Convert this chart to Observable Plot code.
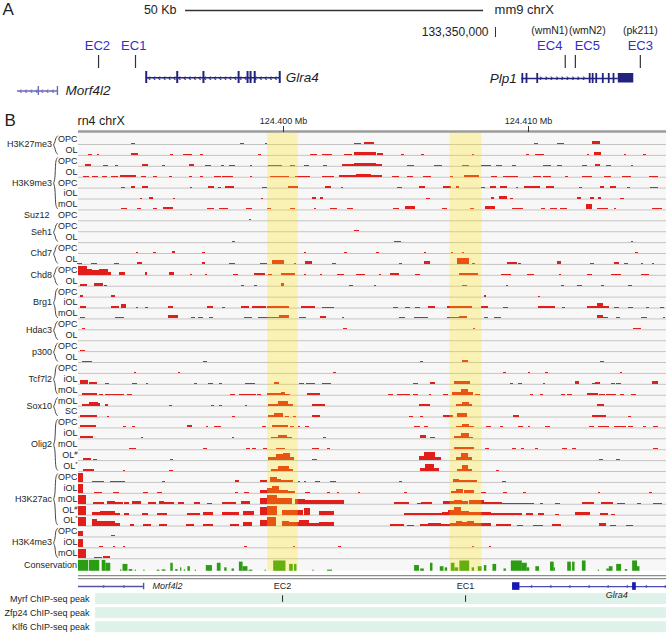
<!DOCTYPE html>
<html><head><meta charset="utf-8">
<script src="https://cdn.jsdelivr.net/npm/d3@7"></script>
<script src="https://cdn.jsdelivr.net/npm/@observablehq/plot@0.6"></script>
<style>
body{margin:0;background:#fff;}
#chart{width:666px;}
#chart svg{display:block;}
</style></head><body><div id="chart"></div>
<script>
// ================= PANEL A (mm9 chrX, kb relative to 133,350,000) =================
const scaleBarKb = [-52, -2];
const scaleBarLabel = "50 Kb";
const assemblyA = "mm9 chrX";
const coordTickA = [0];
const coordTickLabelA = ["133,350,000"];
const ecNamesA = ["EC2", "EC1", "EC4", "EC5", "EC3"];
const ecLabelPosA = [-66.8, -60.7, 9.1, 15.4, 24.3];
const ecSitePosA = [-66.6, -60.4, 11.7, 13.4, 24.3];
const ecAliasA = ["", "", "(wmN1)", "(wmN2)", "(pk211)"];
const genesA = ["Glra4", "Morf4l2", "Plp1"];
const geneStartA = [-58.6, -80.2, 4.4];
const geneEndA = [-36.2, -73.5, 20.6];
const geneStrandA = ["-", "-", "+"];
const glra4ExonsA = [-58.6, -53.4, -49.0, -43.1, -41.6, -41.1, -40.4, -36.2];
const morf4l2ExonsA = [-76.7, -73.5];
const plp1ExonsA = [4.5, 5.2, 7.0, 15.8, 16.3, 16.9, 18.0, 19.0, 19.8];
const plp1UtrA = [20.6, 23.2];

// ================= PANEL B (rn4 chrX, kb relative to 124,390,000) =================
const windowKb = [1.633, 25.633];
const xTicks = [10, 20];
const xTickLabels = ["124.400 Mb", "124.410 Mb"];
const factors = ["H3K27me3","H3K9me3","Suz12","Seh1","Chd7","Chd8","Brg1","Hdac3","p300","Tcf7l2","Sox10","Olig2","H3K27ac","H3K4me3"];
const cellTypes = [
  ["OPC","OL"], ["OPC","OL","OPC","iOL","mOL"], ["OPC"], ["OPC","OL"], ["OPC","OL"], ["OPC","OL"],
  ["OPC","iOL","mOL"], ["OPC","OL"], ["OPC","OL"], ["OPC","iOL","mOL"], ["mOL","SC"],
  ["OPC","iOL","mOL","OL#","OL*"], ["OPC","iOL","mOL","OL#","OL*"], ["OPC","iOL","mOL"]
];
// signal segments: [startKb, endKb, relative height]
const H3K27me3 = [
  [[3.8,3.95,.12],[8.25,8.4,.1],[9.25,9.35,.1],[12.9,13.2,.15],[13.3,13.7,.25],[20.25,20.4,.12],[21.2,21.45,.15],[22.6,22.95,.3]],
  [[2.05,2.2,.1],[2.4,2.5,.1],[3.8,4.1,.15],[5.4,5.5,.1],[5.9,6.3,.12],[6.6,6.75,.12],[9.0,9.1,.1],[11.1,11.4,.12],[11.6,12.0,.12],[12.5,12.8,.1],[12.9,13.8,.25],[13.85,14.1,.15],[14.8,14.95,.1],[15.65,15.75,.1],[17.7,17.8,.1],[19.9,20.05,.1],[20.3,20.65,.12],[22.4,22.5,.1],[22.7,23.0,.25],[23.9,24.0,.1],[24.7,24.8,.1]]
];
const H3K9me3 = [
  [[1.9,2.15,.15],[2.65,2.85,.12],[3.15,3.25,.1],[4.25,4.5,.15],[5.05,5.2,.12],[6.15,6.35,.15],[6.8,7.05,.12],[7.45,7.6,.1],[7.8,8.05,.12],[8.65,8.75,.1],[9.4,9.95,.12],[10.3,10.5,.12],[10.85,11.05,.1],[11.65,11.8,.1],[12.4,12.9,.15],[12.9,13.8,.25],[13.8,14.05,.15],[15.05,15.35,.12],[16.15,16.5,.1],[17.3,17.6,.12],[18.1,18.5,.12],[18.7,18.95,.12],[19.35,19.5,.1],[20.6,20.95,.12],[21.2,21.4,.12],[22.2,22.4,.12],[22.75,22.95,.15],[23.2,23.4,.1],[24.2,24.3,.1]],
  [[1.85,2.1,.12],[2.2,2.45,.12],[2.6,2.8,.12],[3.0,3.25,.1],[3.35,4.0,.15],[4.2,4.4,.12],[4.7,4.85,.1],[5.35,5.45,.1],[6.15,6.3,.12],[6.6,6.75,.12],[7.2,7.45,.12],[7.5,7.95,.12],[8.65,8.75,.1],[9.45,10.25,.12],[10.5,11.1,.12],[11.6,12.1,.12],[12.3,13.0,.15],[13.0,13.6,.3],[13.6,14.05,.18],[14.45,14.75,.1],[15.05,15.3,.1],[15.7,16.05,.12],[16.8,16.95,.1],[17.4,18.0,.2],[18.5,18.75,.1],[19.0,19.6,.12],[20.2,20.55,.1],[20.6,20.95,.12],[21.5,21.65,.1],[22.2,22.6,.12],[23.1,23.4,.12],[23.85,24.2,.12],[24.95,25.3,.12]],
  [[3.4,3.55,.1],[3.8,3.95,.12],[4.25,4.5,.15],[6.2,6.3,.1],[6.95,7.2,.15],[7.35,7.45,.1],[7.65,8.0,.12],[9.15,9.35,.1],[10.2,10.6,.18],[11.7,11.95,.2],[12.35,12.45,.1],[14.65,14.85,.1],[15.55,15.8,.15],[16.55,16.85,.12],[17.05,17.2,.2],[18.1,18.25,.1],[18.45,18.7,.12],[18.85,19.15,.12],[19.5,19.6,.1],[19.85,20.5,.15],[20.75,21.05,.12],[22.1,22.2,.1],[22.95,23.1,.12],[23.35,23.6,.12],[24.05,24.15,.1],[25.0,25.3,.1]],
  [[4.15,4.25,.1],[4.55,4.7,.12],[5.5,5.6,.1],[9.1,9.2,.1],[11.2,11.35,.12],[11.5,11.65,.12],[15.85,16.0,.1],[18.5,18.6,.12],[18.8,19.15,.3],[19.25,19.4,.1],[22.0,22.15,.12],[22.55,22.7,.12],[22.85,23.0,.12],[23.75,23.9,.1]],
  [[3.4,3.65,.12],[4.05,4.2,.12],[4.7,4.85,.1],[5.1,5.5,.2],[6.9,7.2,.15],[7.4,7.75,.1],[8.5,8.75,.1],[9.35,9.5,.1],[10.3,10.5,.12],[11.25,11.35,.1],[11.9,12.2,.12],[12.6,12.85,.1],[14.5,14.75,.12],[15.0,15.4,.3],[16.5,16.7,.1],[17.65,17.8,.12],[18.25,18.65,.3],[19.35,19.8,.1],[20.55,20.7,.12],[20.9,21.2,.12],[21.3,21.6,.1],[22.35,22.6,.55],[22.8,23.25,.15],[23.5,23.6,.1],[25.05,25.45,.15]]
];
const Suz12 = [
  [[8.6,8.7,.1],[17.3,17.4,.08],[19.2,19.3,.08],[22.0,22.1,.08]]
];
const Seh1 = [
  [[12.9,13.1,.12]],
  [[7.9,8.05,.1],[14.55,14.8,.12],[24.2,24.3,.1]]
];
const Chd7 = [
  [[4.0,4.1,.1],[4.7,4.8,.1],[5.45,5.6,.2],[6.7,6.8,.12],[10.85,10.95,.1],[12.5,12.6,.12],[13.8,13.9,.1],[15.75,15.85,.12],[16.85,16.95,.1],[17.3,17.4,.1],[24.35,24.5,.15]],
  [[1.6,1.8,.12],[2.15,2.4,.12],[3.1,3.3,.12],[4.05,4.25,.2],[6.7,6.8,.15],[7.8,8.05,.1],[9.05,9.35,.12],[9.55,10.05,.35],[10.45,10.55,.1],[10.9,11.2,.3],[12.0,12.15,.1],[14.75,14.85,.1],[15.75,16.0,.3],[17.1,17.6,.6],[17.7,17.85,.12],[19.15,19.55,.15],[19.6,19.7,.1],[21.2,21.35,.3],[22.55,22.7,.1],[23.5,23.7,.15],[23.9,24.1,.1],[24.6,24.7,.1],[25.05,25.15,.1]]
];
const Chd8 = [
  [[1.633,2.0,.9],[2.0,2.2,.55],[2.2,2.5,.45],[2.5,2.85,.6],[2.85,3.0,.3],[3.3,3.55,.3],[4.35,4.45,.25],[5.35,5.55,.25],[6.2,6.3,.1],[6.8,6.9,.1],[7.95,8.15,.12],[8.8,9.25,.15],[9.4,9.55,.12],[9.9,10.5,.15],[10.85,10.95,.1],[11.5,11.6,.1],[12.2,12.5,.12],[13.0,13.35,.12],[13.9,14.0,.1],[14.35,14.75,.15],[15.4,15.6,.1],[17.2,17.95,.15],[18.9,19.3,.12],[19.95,20.25,.12],[21.25,21.35,.1],[22.4,22.6,.12],[23.4,23.8,.12],[24.6,24.95,.12]],
  [[1.7,2.0,.2],[2.3,2.65,.25],[2.7,2.8,.12],[8.3,8.4,.1],[8.8,8.95,.12],[9.9,10.05,.3],[12.7,12.85,.12],[13.7,13.8,.1],[17.3,17.5,.12],[19.1,19.2,.1],[21.35,21.45,.1],[22.0,22.2,.12],[23.0,23.1,.1],[24.1,24.25,.12]]
];
const Brg1 = [
  [[1.7,1.85,.12],[3.0,3.15,.12],[18.2,18.3,.12],[20.4,20.5,.1]],
  [[1.7,1.95,.12],[3.0,3.3,.12],[3.4,3.6,.35],[4.0,4.1,.1],[4.35,4.5,.1],[5.3,5.5,.12],[6.9,7.15,.2],[7.5,7.65,.1],[8.3,8.6,.12],[8.75,9.3,.12],[9.35,10.25,.2],[10.75,11.3,.12],[11.6,12.1,.1],[14.5,14.7,.1],[15.0,15.2,.1],[15.4,15.6,.1],[15.9,16.2,.12],[16.7,17.7,.12],[18.1,18.35,.2],[19.0,19.2,.1],[20.4,21.1,.12],[21.4,21.5,.1],[22.4,22.8,.15],[22.8,23.05,.5],[23.05,23.3,.15],[23.5,23.7,.1],[24.1,24.3,.1],[24.8,24.95,.1],[25.4,25.55,.1]],
  [[1.7,1.9,.1],[3.15,3.5,.12],[5.3,5.7,.3],[6.25,6.4,.1],[6.55,6.75,.12],[7.0,7.15,.1],[8.4,8.75,.12],[9.0,9.85,.15],[9.85,10.25,.3],[10.65,10.95,.12],[11.5,11.75,.2],[12.4,12.5,.1],[14.75,15.0,.1],[15.35,15.9,.15],[16.7,17.2,.12],[17.2,17.5,.2],[18.2,18.35,.1],[18.6,18.9,.1],[22.8,23.05,.35],[23.05,23.25,.12],[23.6,23.75,.1],[24.6,24.85,.12],[25.5,25.6,.1]]
];
const Hdac3 = [
  [[1.8,1.9,.1],[12.45,12.6,.1],[17.75,17.85,.1],[24.3,24.6,.1]],
  []
];
const p300 = [
  [[1.7,1.9,.12]],
  [[1.8,2.2,.15],[6.75,6.9,.1],[15.6,15.7,.1],[17.3,17.55,.25],[22.95,23.1,.1]]
];
const Tcf7l2 = [
  [[3.9,4.0,.1],[5.7,5.8,.1],[12.05,12.15,.1],[19.0,19.1,.1],[20.0,20.1,.1],[20.7,20.8,.1],[23.75,23.85,.1]],
  [[1.7,2.05,.35],[2.1,2.4,.2],[2.75,2.9,.12],[3.85,4.05,.12],[4.4,4.5,.1],[6.35,6.5,.12],[6.95,7.15,.12],[7.4,7.5,.1],[8.45,8.85,.12],[9.65,9.85,.15],[10.65,10.85,.1],[10.95,11.3,.1],[11.6,11.95,.12],[15.3,15.5,.1],[16.0,16.2,.15],[17.0,17.65,.25],[19.25,19.4,.1],[19.6,19.75,.1],[20.6,20.7,.1],[21.9,22.1,.3],[22.6,22.75,.1],[22.75,22.95,.2],[23.4,23.55,.1],[23.6,23.8,.1],[25.05,25.3,.3]],
  [[1.8,2.4,.2],[2.5,2.65,.1],[2.75,3.5,.12],[3.65,3.85,.12],[7.85,8.05,.1],[8.2,8.9,.12],[8.95,9.1,.1],[9.35,9.9,.15],[9.9,10.1,.25],[10.1,10.3,.12],[11.0,11.5,.18],[14.3,14.5,.1],[14.65,15.2,.12],[15.3,15.5,.1],[15.95,16.05,.1],[16.55,16.75,.1],[16.9,17.25,.25],[17.25,17.55,.6],[17.55,17.75,.3],[17.85,18.05,.1],[20.1,20.2,.1],[20.5,20.6,.1],[21.35,21.5,.1],[21.6,21.8,.1],[22.4,22.85,.2],[22.9,23.15,.12],[23.2,23.6,.12],[23.75,23.9,.1],[24.2,24.4,.12]]
];
const Sox10 = [
  [[1.8,2.1,.2],[2.1,2.45,.4],[2.45,2.55,.25],[2.75,2.85,.12],[5.35,5.45,.1],[7.05,7.2,.1],[7.4,7.5,.1],[8.45,8.55,.1],[9.4,9.8,.2],[9.8,10.2,.45],[10.2,10.4,.2],[11.2,11.7,.2],[15.55,16.0,.15],[17.05,17.3,.2],[17.3,17.6,.4],[17.6,17.7,.2],[22.8,23.1,.12]],
  [[1.7,2.4,.2],[2.8,2.9,.1],[7.9,8.05,.1],[9.4,9.65,.12],[9.65,10.0,.35],[10.1,10.25,.1],[10.4,10.55,.1],[11.2,11.5,.2],[15.15,15.3,.1],[15.6,15.7,.1],[16.55,16.95,.12],[17.1,17.5,.4],[19.4,19.65,.15],[22.6,23.2,.12],[24.1,24.2,.1]]
];
const Olig2 = [
  [[1.7,2.0,.2],[2.0,2.35,.25],[3.45,3.6,.12],[3.85,3.95,.1],[6.1,6.3,.2],[6.85,6.95,.1],[7.2,7.45,.1],[9.15,9.3,.1],[9.55,10.2,.2],[10.3,10.45,.1],[10.6,10.7,.1],[10.9,11.05,.1],[15.35,15.6,.12],[15.75,15.9,.1],[17.05,17.3,.15],[17.3,17.6,.35],[17.6,17.8,.15],[18.3,18.5,.1],[18.85,19.0,.1],[19.6,19.8,.1],[20.0,20.1,.1],[20.7,20.9,.1],[22.5,22.7,.1],[22.85,23.3,.12],[23.5,24.0,.1],[24.1,24.3,.1],[24.7,24.8,.1],[25.1,25.3,.1]],
  [[1.7,2.25,.2],[4.2,4.3,.1],[7.9,8.0,.1],[9.5,9.8,.15],[9.8,10.15,.3],[10.15,10.35,.12],[11.65,11.75,.1],[15.6,15.85,.3],[16.0,16.2,.1],[17.0,17.25,.2],[17.25,17.6,.5],[17.6,17.75,.15]],
  [[3.7,4.0,.15],[6.75,6.9,.1],[8.5,8.65,.1],[8.75,8.9,.1],[9.2,9.35,.1],[9.7,10.1,.15],[11.2,11.45,.1],[11.8,11.9,.1],[17.0,17.8,.25],[18.25,18.4,.1],[19.35,19.5,.1],[19.7,19.85,.1],[20.3,20.4,.1],[21.4,21.6,.1],[21.8,21.95,.1],[25.1,25.3,.1]],
  [[1.85,2.15,.2],[2.25,2.4,.15],[5.4,5.5,.1],[9.4,9.7,.3],[9.7,10.0,.6],[10.0,10.3,.75],[10.3,10.45,.3],[11.2,11.4,.1],[15.55,15.75,.4],[15.75,16.2,.8],[16.2,16.45,.35],[17.05,17.25,.3],[17.25,17.55,.75],[17.55,17.7,.3],[22.9,23.05,.1],[23.6,23.75,.1]],
  [[1.85,2.3,.2],[3.45,3.55,.1],[5.35,5.5,.15],[9.5,9.8,.2],[9.8,10.25,.55],[10.25,10.4,.2],[15.6,15.8,.3],[15.8,16.15,.7],[16.15,16.35,.3],[17.1,17.3,.25],[17.3,17.55,.65],[17.55,17.7,.2],[18.7,18.8,.1]]
];
const H3K27ac = [
  [[1.633,1.85,.95],[2.2,2.7,.12],[2.95,3.55,.1],[5.05,5.2,.1],[8.05,8.2,.15],[9.05,9.35,.2],[9.45,9.75,.5],[9.75,9.9,.3],[9.9,10.4,.2],[10.6,10.7,.12],[10.85,10.95,.1],[11.3,11.5,.12],[11.9,12.15,.12],[14.75,14.85,.1],[16.95,17.2,.3],[17.2,17.5,.2],[17.5,17.9,.15],[18.95,19.1,.1]],
  [[1.633,1.85,.9],[2.3,2.6,.12],[3.05,3.3,.12],[4.3,4.5,.1],[4.85,5.05,.1],[8.05,8.15,.1],[8.4,8.6,.1],[9.05,9.35,.3],[9.35,9.55,.5],[9.55,9.85,.65],[9.85,10.2,.3],[10.2,10.5,.2],[10.9,11.1,.1],[11.8,11.9,.1],[12.2,12.3,.1],[13.05,13.15,.1],[14.95,15.05,.1],[16.85,17.05,.2],[17.05,17.35,.4],[17.4,17.8,.3],[18.1,18.3,.1],[19.0,19.15,.1],[19.8,19.9,.1],[22.85,22.95,.1],[24.95,25.05,.1]],
  [[1.633,1.95,.9],[2.25,2.7,.2],[2.8,3.15,.3],[3.15,3.45,.2],[3.5,3.7,.15],[3.85,4.2,.25],[4.5,4.8,.15],[4.95,5.15,.25],[5.15,5.55,.2],[5.7,5.95,.15],[6.35,6.6,.15],[6.9,7.1,.1],[7.5,8.1,.2],[8.3,8.65,.25],[9.05,9.35,.6],[9.35,9.75,.9],[9.75,9.95,.55],[9.95,10.35,.6],[10.5,10.9,.45],[10.9,11.4,.4],[11.4,12.5,.35],[14.55,15.15,.15],[15.45,15.65,.1],[15.65,16.1,.2],[16.55,17.0,.3],[17.0,17.3,.4],[17.3,17.55,.3],[17.6,18.2,.35],[18.2,18.95,.15],[18.95,20.25,.1],[20.5,20.6,.1],[21.1,21.3,.1],[22.2,22.7,.15],[23.0,23.45,.15],[23.65,23.95,.1],[24.45,24.6,.1],[25.1,25.45,.1]],
  [[1.633,1.95,.9],[2.2,2.55,.3],[2.55,3.15,.35],[3.15,3.35,.2],[3.5,3.7,.15],[4.25,4.5,.15],[4.85,5.25,.15],[6.1,6.6,.2],[6.75,7.15,.3],[7.5,8.2,.3],[8.35,8.8,.35],[9.05,9.35,.75],[9.35,9.75,.9],[9.95,10.25,.45],[10.25,10.8,.5],[10.85,11.1,.7],[11.45,12.1,.35],[14.95,16.5,.2],[16.5,16.75,.3],[16.75,17.0,.5],[17.0,17.25,.8],[17.25,17.6,.4],[17.6,18.5,.25],[18.5,19.75,.15],[19.9,20.2,.12],[20.4,20.65,.12],[21.1,21.25,.1],[21.9,22.55,.25],[22.95,23.25,.12],[23.4,23.55,.1]],
  [[1.633,1.95,.9],[2.2,2.4,.7],[2.4,2.8,.5],[2.8,3.15,.45],[3.15,3.35,.25],[3.75,3.9,.12],[4.3,4.6,.12],[4.95,5.25,.12],[6.05,6.35,.15],[6.75,7.15,.2],[7.85,8.2,.2],[8.35,8.75,.35],[9.05,9.35,.6],[9.35,9.7,.9],[9.95,10.25,.45],[10.25,10.65,.4],[10.65,11.05,.55],[11.05,11.45,.25],[11.45,12.1,.35],[14.35,14.95,.15],[15.05,15.35,.1],[15.6,15.9,.15],[15.9,16.45,.3],[16.45,16.8,.2],[16.8,17.05,.3],[17.05,17.3,.5],[17.3,17.5,.35],[17.5,17.8,.45],[17.8,18.5,.25],[18.7,19.3,.12],[19.55,19.8,.1],[20.2,20.6,.1],[21.0,21.35,.15],[22.9,23.2,.3],[23.35,23.6,.1],[24.0,24.3,.1]]
];
const H3K4me3 = [
  [[1.633,1.85,.6],[3.0,3.15,.1]],
  [[1.633,1.85,.8],[2.5,2.65,.1],[3.05,3.15,.1],[3.45,3.55,.1],[8.4,8.55,.1],[10.4,10.5,.1],[12.25,12.35,.1],[17.7,17.8,.1],[18.4,18.5,.1]],
  [[1.633,1.95,.9],[2.3,2.6,.15],[2.65,2.95,.2]]
];
const signalSets = [H3K27me3, H3K9me3, Suz12, Seh1, Chd7, Chd8, Brg1, Hdac3, p300, Tcf7l2, Sox10, Olig2, H3K27ac, H3K4me3];
const conservationLabel = "Conservation";
const conservation = [[1.633,2.05,.95],[2.08,2.5,.95],[2.6,2.75,.95],[2.75,2.95,.7],[3.35,3.4,.12],[3.45,3.65,.6],[3.7,3.85,.15],[3.95,4.0,.1],[4.3,4.35,.1],[4.85,4.95,.1],[5.05,5.2,.12],[5.4,5.5,.7],[5.6,5.7,.15],[5.8,5.85,.3],[5.95,6.0,.12],[6.1,6.2,.4],[6.4,6.45,.1],[6.85,7.1,.5],[7.3,7.45,.7],[7.6,7.7,.3],[7.9,8.0,.2],[8.2,8.35,.8],[8.35,8.55,.4],[8.6,8.75,.1],[9.25,9.3,.1],[9.6,10.1,.9],[10.25,10.4,.6],[10.45,10.55,.6],[11.2,11.25,.1],[11.8,12.0,.1],[15.35,15.55,.5],[15.6,15.75,.2],[16.0,16.1,.7],[16.4,16.55,.4],[16.6,16.7,.3],[16.85,17.0,.7],[17.0,17.15,.3],[17.2,17.6,.9],[17.7,17.8,.3],[17.95,18.1,.4],[18.2,18.3,.5],[18.55,18.7,.6],[19.0,19.1,.2],[19.3,19.75,.9],[19.75,19.95,.7],[19.95,20.05,.3],[20.3,20.45,.4],[20.9,21.05,.8],[21.05,21.1,.3],[21.6,21.75,.8],[21.8,21.9,.8],[22.2,22.35,.9],[22.85,22.9,.1],[23.2,23.3,.2],[23.3,23.45,.4],[23.6,23.8,.6],[23.95,24.05,.15],[24.25,24.45,.9],[24.45,24.55,.4]];
const highlightNames = ["EC2", "EC1"];
const highlightStart = [9.35, 16.8];
const highlightEnd = [10.6, 18.1];
const ecSitePosB = [9.96, 17.43];
const genesB = ["Morf4l2", "Glra4"];
const morf4l2B = [1.633, 4.29];
const glra4B = [19.35, 25.633];
const glra4ExonsB = [[19.35, 19.65], [24.25, 24.4]];
const chipTracks = ["Myrf ChIP-seq peak", "Zfp24 ChIP-seq peak", "Klf6 ChIP-seq peak"];
const chipTrackStart = 2.33;
const myrfPeaks = [9.96, 17.43];

// ================= styles =================
const FONT = "'Liberation Sans', Arial, Helvetica, sans-serif";
const RED = "#e01f1a";
const GREEN = "#2c9c14";
const TXT = "#1e1e1e";

// ================= build panel A =================
const [xa0, xa1] = [-83.05, 28.69];
const ecA = ecNamesA.map((n, i) => ({name: n, lab: ecLabelPosA[i], site: ecSitePosA[i], alias: ecAliasA[i]}));
const geneA = genesA.map((g, i) => ({gene: g, start: geneStartA[i], end: geneEndA[i], strand: geneStrandA[i]}));
const chevA = [
  ...d3.range(-58.1, -36.6, 0.85).map(x => ({x, c: "‹", col: "#23237e", y: 7.73})),
  ...d3.range(-79.7, -73.8, 0.9).map(x => ({x, c: "‹", col: "#6b6bb5", y: 9.05})),
  ...d3.range(7.6, 15.6, 0.9).map(x => ({x, c: "›", col: "#23237e", y: 7.8}))
];
const gA = name => geneA.filter(d => d.gene === name);
const panelA = Plot.plot({
  width: 666, height: 110, margin: 0,
  style: {fontFamily: FONT, background: "white", color: TXT, overflow: "visible"},
  x: {domain: [xa0, xa1], axis: null},
  y: {domain: [0, 11], range: [0, 110], axis: null},
  marks: [
    Plot.text(["A"], {x: xa0 + 0.35, y: 0.9, text: d => d, fontSize: 17, textAnchor: "start", fill: TXT}),
    Plot.ruleY([1.0], {x1: scaleBarKb[0], x2: scaleBarKb[1], stroke: "#333", strokeWidth: 1.3}),
    Plot.text([scaleBarLabel], {x: scaleBarKb[0], y: 0.95, text: d => d, dx: -9, textAnchor: "end", fontSize: 12.5, fill: TXT}),
    Plot.text([assemblyA], {x: scaleBarKb[1], y: 0.95, text: d => d, dx: 11, textAnchor: "start", fontSize: 13, fill: TXT}),
    Plot.ruleX(coordTickA, {y1: 2.7, y2: 3.7, stroke: "#333", strokeWidth: 1}),
    Plot.text(coordTickA, {x: d => d, y: 3.2, text: (d, i) => coordTickLabelA[i], dx: -7, textAnchor: "end", fontSize: 12, fill: TXT}),
    Plot.text(ecA, {x: "lab", y: 3.0, text: "alias", fontSize: 10.5, fill: TXT}),
    Plot.text(ecA, {x: "lab", y: 4.5, text: "name", fontSize: 13, fill: "#2f2fd0"}),
    Plot.ruleX(ecA, {x: "site", y1: 5.5, y2: 6.8, stroke: "#333", strokeWidth: 1.2}),
    // Glra4
    Plot.ruleY(gA("Glra4"), {y: 7.73, x1: "start", x2: "end", stroke: "#23237e", strokeWidth: 1.4}),
    Plot.ruleX(glra4ExonsA, {x: d => d, y1: 7.1, y2: 8.3, stroke: "#23237e", strokeWidth: 2}),
    // Morf4l2
    Plot.ruleY(gA("Morf4l2"), {y: 9.05, x1: "start", x2: "end", stroke: "#6b6bb5", strokeWidth: 1.3}),
    Plot.ruleX(morf4l2ExonsA, {x: d => d, y1: 8.6, y2: 9.5, stroke: "#6b6bb5", strokeWidth: 1.4}),
    // Plp1
    Plot.ruleY(gA("Plp1"), {y: 7.8, x1: "start", x2: "end", stroke: "#23237e", strokeWidth: 1.4}),
    Plot.ruleX(plp1ExonsA, {x: d => d, y1: 7.3, y2: 8.3, stroke: "#23237e", strokeWidth: 1.8}),
    Plot.rect([plp1UtrA], {x1: d => d[0], x2: d => d[1], y1: 7.3, y2: 8.25, fill: "#23237e"}),
    Plot.text(chevA, {x: "x", y: "y", text: "c", fill: "col", fontSize: 9, fontWeight: "bold"}),
    Plot.text(gA("Glra4"), {x: "end", y: 7.73, text: "gene", dx: 6, textAnchor: "start", fontSize: 13.5, fontStyle: "italic", fill: TXT}),
    Plot.text(gA("Morf4l2"), {x: "end", y: 9.05, text: "gene", dx: 8, textAnchor: "start", fontSize: 13.5, fontStyle: "italic", fill: TXT}),
    Plot.text(gA("Plp1"), {x: "start", y: 7.8, text: "gene", dx: -5, textAnchor: "end", fontSize: 13.5, fontStyle: "italic", fill: TXT})
  ]
});

// ================= build panel B =================
const [X0, X1] = windowKb;
const rows = [];
factors.forEach((f, gi) => cellTypes[gi].forEach((c, k) => rows.push({i: rows.length, factor: f, cell: c, group: gi, segs: signalSets[gi][k]})));
const NR = rows.length;              // 39 signal rows
const CONS_TOP = NR, CONS_BOT = NR + 1.15;
const segs = rows.flatMap(r => r.segs.map(([a, b, h]) => ({x1: a, x2: b, base: r.i + 1, h})));
const consSegs = conservation.map(([a, b, h]) => ({x1: a, x2: b, h}));
const groups = factors.map((f, gi) => {
  const rs = rows.filter(r => r.group === gi);
  return {factor: f, first: rs[0].i, last: rs[rs.length - 1].i, n: rs.length};
});
const kbPerPx = 1 / 24.5;
const braces = groups.filter(g => g.n > 1).flatMap(g => {
  const top = g.first + 0.22, bot = g.last + 0.88, mid = (top + bot) / 2;
  const xr = X0 - 21 * kbPerPx, xs = X0 - 23.2 * kbPerPx, xc = X0 - 25.6 * kbPerPx;
  return [[xr, top], [xs, top + 0.25], [xs, mid - 0.28], [xc, mid], [xs, mid + 0.28], [xs, bot - 0.25], [xr, bot]]
    .map(([x, y]) => ({x, y, g: g.factor}));
});
const highlights = highlightNames.map((n, i) => ({name: n, x1: highlightStart[i], x2: highlightEnd[i], site: ecSitePosB[i]}));
const chevB = [
  ...d3.range(2.65, 4.2, 0.82).map(x => ({x, c: "‹", col: "#5656a8"})),
  ...d3.range(20.12, 25.6, 0.78).map(x => ({x, c: "‹", col: "#4a4ab8"}))
];
const chipRows = chipTracks.map((t, i) => ({t, i, yc: 42.7 + i * 1.29}));
const groupMid = d => (d.first + d.last + 1) / 2;

const panelB = Plot.plot({
  width: 666, height: 524, marginLeft: 78, marginRight: 0, marginTop: 21, marginBottom: 0,
  style: {fontFamily: FONT, background: "white", color: TXT, overflow: "visible", fontSize: "9px"},
  x: {domain: [X0, X1], axis: null},
  y: {domain: [0, 45.95], range: [23.1, 524], axis: null},
  marks: [
    // track backgrounds
    Plot.rect(rows, {x1: () => X0, x2: () => X1, y1: d => d.i, y2: d => d.i + 1, fill: "#f7f7f7"}),
    Plot.rect([0], {x1: () => X0, x2: () => X1, y1: CONS_TOP, y2: CONS_BOT, fill: "#f7f7f7"}),
    Plot.ruleY(rows, {y: d => d.i + 1, x1: () => X0, x2: () => X1, stroke: "#c4c4c4", strokeWidth: 1}),
    // ChIP-seq peak bands
    Plot.rect(chipRows, {x1: () => chipTrackStart, x2: () => X1, y1: d => d.yc - 0.5, y2: d => d.yc + 0.5, fill: "#dff2ea"}),
    // signals
    Plot.rect(segs, {x1: "x1", x2: "x2", y1: "base", y2: d => d.base - d.h * 0.9, fill: RED, shapeRendering: "crispEdges"}),
    Plot.rect(consSegs, {x1: "x1", x2: "x2", y1: CONS_BOT, y2: d => CONS_BOT - d.h * 1.05, fill: GREEN}),
    // highlight overlay
    Plot.rect(highlights, {x1: "x1", x2: "x2", y1: -0.08, y2: CONS_BOT, fill: "#ffe600", fillOpacity: 0.27}),
    // ruler
    Plot.ruleY([-0.19], {x1: () => X0, x2: () => X1, stroke: "#9b9b9b", strokeWidth: 2.4}),
    Plot.axisX(xTicks, {anchor: "top", tickFormat: (d, i) => xTickLabels[i], tickSize: 6, tickPadding: 2, fontSize: 9, stroke: "#333", label: null}),
    Plot.text(["rn4 chrX"], {x: X0, y: -1.2, text: d => d, dx: -1, textAnchor: "start", fontSize: 12.5, fill: TXT}),
    Plot.text(["B"], {x: X0, y: -1.2, text: d => d, dx: -74, textAnchor: "start", fontSize: 17, fill: TXT}),
    // row labels
    Plot.text(rows, {x: X0, y: d => d.i + 0.5, text: "cell", dx: -1, textAnchor: "end", fontSize: 9, fill: TXT}),
    Plot.text(groups.filter(g => g.n > 1), {x: X0, y: groupMid, text: "factor", dx: -26.5, textAnchor: "end", fontSize: 9, fill: TXT}),
    Plot.text(groups.filter(g => g.n === 1), {x: X0, y: groupMid, text: "factor", dx: -29, textAnchor: "end", fontSize: 9, fill: TXT}),
    Plot.line(braces, {x: "x", y: "y", z: "g", stroke: "#333", strokeWidth: 0.9, curve: "basis"}),
    Plot.text([conservationLabel], {x: X0, y: (CONS_TOP + CONS_BOT) / 2, text: d => d, dx: -1.5, textAnchor: "end", fontSize: 9, fill: TXT}),
    // double separator
    Plot.ruleY([40.54, 40.82], {x1: () => X0, x2: () => X1, stroke: "#8e8e8e", strokeWidth: 1.2}),
    // genes (bottom)
    Plot.ruleY([morf4l2B], {y: 41.55, x1: d => d[0], x2: d => d[1], stroke: "#5656a8", strokeWidth: 1.4}),
    Plot.ruleX([morf4l2B[1]], {y1: 41.25, y2: 41.85, stroke: "#5656a8", strokeWidth: 1.4}),
    Plot.ruleY([glra4B], {y: 41.55, x1: d => d[0], x2: d => d[1], stroke: "#4a4ab8", strokeWidth: 1.3}),
    Plot.rect(glra4ExonsB, {x1: d => d[0], x2: d => d[1], y1: 41.2, y2: 41.9, fill: "#1818b0"}),
    Plot.text(chevB, {x: "x", y: 41.5, text: "c", fill: "col", fontSize: 8, fontWeight: "bold"}),
    Plot.text([genesB[0]], {x: morf4l2B[1], y: 41.55, text: d => d, dx: 9, textAnchor: "start", fontSize: 9, fontStyle: "italic", fill: TXT}),
    Plot.text([genesB[1]], {x: 23.6, y: 42.3, text: d => d, fontSize: 9, fontStyle: "italic", fill: TXT}),
    Plot.text(highlights, {x: "site", y: 41.5, text: "name", fontSize: 9, fill: TXT}),
    Plot.ruleX(myrfPeaks, {x: d => d, y1: 42.4, y2: 43.0, stroke: "#333", strokeWidth: 1.1}),
    Plot.text(chipRows, {x: X0, y: "yc", text: "t", dx: 11, textAnchor: "end", fontSize: 9, fill: TXT})
  ]
});

const root = document.getElementById("chart");
root.appendChild(panelA);
root.appendChild(panelB);
// superscripts for OL# / OL*
d3.select(panelB).selectAll("text").each(function() {
  const t = this.textContent;
  if (t === "OL#" || t === "OL*") {
    const sel = d3.select(this);
    sel.text("OL");
    sel.append("tspan").attr("font-size", 6).attr("dy", -3).text(t.slice(2));
  }
});
</script></body></html>
